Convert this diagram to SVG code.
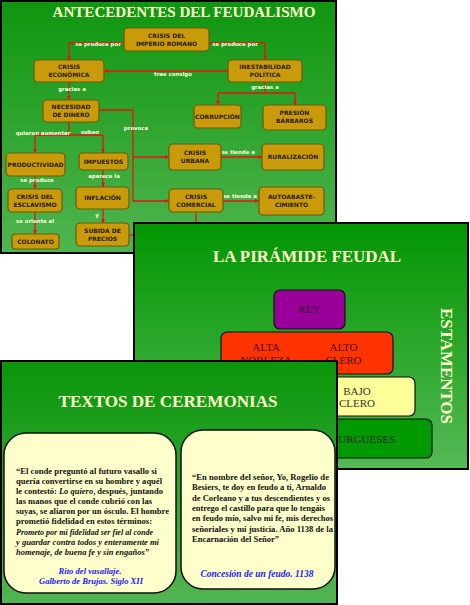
<svg xmlns="http://www.w3.org/2000/svg" width="470" height="605" viewBox="0 0 470 605">
<defs>
<linearGradient id="g1" x1="0" y1="0" x2="0" y2="1"><stop offset="0" stop-color="#0f960f"/><stop offset="1" stop-color="#50b550"/></linearGradient>
<linearGradient id="g2" x1="0" y1="0" x2="0" y2="1"><stop offset="0" stop-color="#029602"/><stop offset="1" stop-color="#55b955"/></linearGradient>
<linearGradient id="g3" x1="0" y1="0" x2="0" y2="1"><stop offset="0" stop-color="#0a950a"/><stop offset="1" stop-color="#52b552"/></linearGradient>
<marker id="ar" viewBox="0 0 6 6" refX="6" refY="3" markerWidth="4" markerHeight="4" markerUnits="userSpaceOnUse" orient="auto"><path d="M0,0 L6,3 L0,6 Z" fill="#ee1111"/></marker>
<style>
.slide{stroke:#000;stroke-width:2}
.nd rect{fill:#c99a0a;stroke:#6b5a10;stroke-width:1.2}
.nd text{font-family:"DejaVu Sans",sans-serif;font-weight:bold;font-size:6px;fill:#2a1c00;text-anchor:middle}
.lb{font-family:"DejaVu Sans",sans-serif;font-weight:bold;font-size:5.4px;fill:#ffffe0;text-anchor:middle}
.cn path{fill:none;stroke:#ee1111;stroke-width:1.3}
.ttl{font-family:"Liberation Serif",serif;font-weight:bold;fill:#ffffcc;text-anchor:middle}
.pt{font-family:"Liberation Serif",serif;font-size:11px;text-anchor:middle}
.bx{fill:#ffffcc;stroke:#111;stroke-width:1.5}
.q{font-family:"Liberation Serif",serif;font-weight:bold;font-size:9.2px;fill:#111}
.src{font-family:"Liberation Serif",serif;font-weight:bold;font-style:italic;fill:#1a1aff;text-anchor:middle}
</style>
</defs>

<!-- Slide 1 -->
<g id="slide1">
<rect class="slide" x="1" y="1" width="335" height="252" fill="url(#g1)"/>
<text class="ttl" x="184" y="17" font-size="15" textLength="263" lengthAdjust="spacingAndGlyphs">ANTECEDENTES DEL FEUDALISMO</text>

<g class="cn" id="connectors">
<path d="M124,43 H69 V60" marker-end="url(#ar)"/>
<path d="M209,43 H265 V60" marker-end="url(#ar)"/>
<path d="M228,71 H104" marker-end="url(#ar)"/>
<path d="M69,82 V100" marker-end="url(#ar)"/>
<path d="M265,82 V93"/>
<path d="M218,93 H295"/>
<path d="M218,93 V105" marker-end="url(#ar)"/>
<path d="M295,93 V105" marker-end="url(#ar)"/>
<path d="M99,110 H133 V201 H169" marker-end="url(#ar)"/>
<path d="M133,157 H169" marker-end="url(#ar)"/>
<path d="M69,122 V135"/>
<path d="M35,135 H103"/>
<path d="M35,135 V153" marker-end="url(#ar)"/>
<path d="M103,135 V153" marker-end="url(#ar)"/>
<path d="M35,176 V189" marker-end="url(#ar)"/>
<path d="M35,212 V234" marker-end="url(#ar)"/>
<path d="M103,170 V187" marker-end="url(#ar)"/>
<path d="M103,209 V223" marker-end="url(#ar)"/>
<path d="M221,157 H262" marker-end="url(#ar)"/>
<path d="M223,201 H259" marker-end="url(#ar)"/>
<path d="M196,212 V224"/>
<path d="M129,235 H134"/>
</g>

<g id="labels">
<text class="lb" x="98" y="46">se produce por</text>
<text class="lb" x="235" y="46">se produce por</text>
<text class="lb" x="173" y="76">trae consigo</text>
<text class="lb" x="72" y="91">gracias a</text>
<text class="lb" x="265" y="89">gracias a</text>
<text class="lb" x="136" y="130">provoca</text>
<text class="lb" x="43" y="135">quieren aumentar</text>
<text class="lb" x="90" y="134">suben</text>
<text class="lb" x="37" y="182">se produce</text>
<text class="lb" x="104" y="178">aparece la</text>
<text class="lb" x="35" y="223">se orienta al</text>
<text class="lb" x="97" y="217">y</text>
<text class="lb" x="238" y="154">se tiende a</text>
<text class="lb" x="240" y="198">se tiende a</text>
</g>

<g id="n-imperio" class="nd"><rect x="124" y="28" width="85" height="23" rx="4"/><text x="166.5" y="38">CRISIS DEL</text><text x="166.5" y="46">IMPERIO ROMANO</text></g>
<g id="n-economica" class="nd"><rect x="34" y="60" width="70" height="22" rx="4"/><text x="69" y="69">CRISIS</text><text x="69" y="77">ECONÓMICA</text></g>
<g id="n-politica" class="nd"><rect x="228" y="60" width="74" height="22" rx="4"/><text x="265" y="69">INESTABILIDAD</text><text x="265" y="77">POLÍTICA</text></g>
<g id="n-dinero" class="nd"><rect x="43" y="100" width="56" height="22" rx="4"/><text x="71" y="109">NECESIDAD</text><text x="71" y="117">DE DINERO</text></g>
<g id="n-corrupcion" class="nd"><rect x="194" y="105" width="47" height="23" rx="4"/><text x="217.5" y="119">CORRUPCIÓN</text></g>
<g id="n-barbaros" class="nd"><rect x="263" y="105" width="63" height="25" rx="4"/><text x="294.5" y="115">PRESIÓN</text><text x="294.5" y="123">BÁRBAROS</text></g>
<g id="n-productividad" class="nd"><rect x="6" y="153" width="59" height="23" rx="4"/><text x="35.5" y="167" textLength="56" lengthAdjust="spacingAndGlyphs">PRODUCTIVIDAD</text></g>
<g id="n-impuestos" class="nd"><rect x="79" y="153" width="49" height="17" rx="4"/><text x="103.5" y="164">IMPUESTOS</text></g>
<g id="n-urbana" class="nd"><rect x="169" y="144" width="52" height="26" rx="4"/><text x="195" y="155">CRISIS</text><text x="195" y="163">URBANA</text></g>
<g id="n-ruralizacion" class="nd"><rect x="262" y="144" width="62" height="26" rx="4"/><text x="293" y="159">RURALIZACIÓN</text></g>
<g id="n-esclavismo" class="nd"><rect x="8" y="189" width="54" height="23" rx="4"/><text x="35" y="199">CRISIS DEL</text><text x="35" y="207">ESCLAVISMO</text></g>
<g id="n-inflacion" class="nd"><rect x="76" y="187" width="53" height="22" rx="4"/><text x="102.5" y="200">INFLACIÓN</text></g>
<g id="n-comercial" class="nd"><rect x="169" y="189" width="54" height="23" rx="4"/><text x="196" y="199">CRISIS</text><text x="196" y="207">COMERCIAL</text></g>
<g id="n-autoabast" class="nd"><rect x="259" y="187" width="65" height="28" rx="4"/><text x="291.5" y="199">AUTOABASTE-</text><text x="291.5" y="207">CIMIENTO</text></g>
<g id="n-colonato" class="nd"><rect x="12" y="234" width="47" height="15" rx="3"/><text x="35.5" y="244">COLONATO</text></g>
<g id="n-subida" class="nd"><rect x="76" y="223" width="53" height="23" rx="4"/><text x="102.5" y="233">SUBIDA DE</text><text x="102.5" y="241">PRECIOS</text></g>
</g>

<!-- Slide 2 -->
<g id="slide2">
<rect class="slide" x="134" y="223" width="334" height="246" fill="url(#g2)"/>
<text class="ttl" x="307" y="262" font-size="17" textLength="188" lengthAdjust="spacingAndGlyphs">LA PIRÁMIDE FEUDAL</text>
<g id="burgueses"><rect x="272" y="419" width="160" height="39" rx="6" fill="#009900" stroke="#111" stroke-width="1.2"/><text class="pt" x="363" y="443" fill="#1a2a1a">BURGUESES</text></g>
<g id="bajo"><rect x="291" y="377" width="124" height="39" rx="6" fill="#ffff99" stroke="#111" stroke-width="1.2"/><text class="pt" x="357" y="395" fill="#333">BAJO</text><text class="pt" x="357" y="407" fill="#333">CLERO</text></g>
<g id="alta"><rect x="221" y="332" width="172" height="42" rx="6" fill="#ff3300" stroke="#111" stroke-width="1.2"/><text class="pt" x="266" y="351" fill="#4a1000">ALTA</text><text class="pt" x="266" y="364" fill="#4a1000">NOBLEZA</text><text class="pt" x="343.5" y="351" fill="#4a1000">ALTO</text><text class="pt" x="343.5" y="364" fill="#4a1000">CLERO</text></g>
<g id="rey"><rect x="274" y="290" width="71" height="39" rx="6" fill="#990099" stroke="#111" stroke-width="1.2"/><text class="pt" x="309.5" y="313" fill="#330033">REY</text></g>
<text class="ttl" font-size="17" transform="translate(441,366) rotate(90)" x="0" y="0" textLength="116" lengthAdjust="spacingAndGlyphs">ESTAMENTOS</text>
</g>

<!-- Slide 3 -->
<g id="slide3">
<rect class="slide" x="1" y="361" width="336" height="243" fill="url(#g3)"/>
<text class="ttl" x="168" y="407" font-size="17" textLength="219" lengthAdjust="spacingAndGlyphs">TEXTOS DE CEREMONIAS</text>
<g id="texto1">
<rect class="bx" x="4" y="433" width="172" height="160" rx="22"/>
<text class="q" x="16" y="474" textLength="141" lengthAdjust="spacingAndGlyphs">“El conde preguntó al futuro vasallo si</text>
<text class="q" x="16" y="484" textLength="146" lengthAdjust="spacingAndGlyphs">quería convertirse en su hombre y aquél</text>
<text class="q" x="16" y="494" textLength="147" lengthAdjust="spacingAndGlyphs">le contestó: <tspan font-style="italic">Lo quiero</tspan>, después, juntando</text>
<text class="q" x="16" y="504" textLength="136" lengthAdjust="spacingAndGlyphs">las manos que el conde cubrió con las</text>
<text class="q" x="16" y="514" textLength="153" lengthAdjust="spacingAndGlyphs">suyas, se aliaron por un ósculo. El hombre</text>
<text class="q" x="16" y="524" textLength="136" lengthAdjust="spacingAndGlyphs">prometió fidelidad en estos términos:</text>
<text class="q" x="16" y="535" font-style="italic" textLength="137" lengthAdjust="spacingAndGlyphs">Prometo por mi fidelidad ser fiel al conde</text>
<text class="q" x="16" y="545" font-style="italic" textLength="143" lengthAdjust="spacingAndGlyphs">y guardar contra todos y enteramente mi</text>
<text class="q" x="16" y="555" font-style="italic" textLength="133" lengthAdjust="spacingAndGlyphs">homenaje, de buena fe y sin engaños”</text>
<text class="src" x="90" y="574" font-size="9" textLength="63" lengthAdjust="spacingAndGlyphs">Rito del vasallaje.</text>
<text class="src" x="91" y="584" font-size="9" textLength="104" lengthAdjust="spacingAndGlyphs">Galberto de Brujas. Siglo XII</text>
</g>
<g id="texto2">
<rect class="bx" x="181" y="430" width="154" height="159" rx="22"/>
<text class="q" x="192" y="480" textLength="137" lengthAdjust="spacingAndGlyphs">“En nombre del señor, Yo, Rogelio de</text>
<text class="q" x="192" y="490" textLength="134" lengthAdjust="spacingAndGlyphs">Besiers, te doy en feudo a ti, Arnaldo</text>
<text class="q" x="192" y="501" textLength="138" lengthAdjust="spacingAndGlyphs">de Corleano y a tus descendientes y os</text>
<text class="q" x="192" y="511" textLength="133" lengthAdjust="spacingAndGlyphs">entrego el castillo para que lo tengáis</text>
<text class="q" x="192" y="521" textLength="141" lengthAdjust="spacingAndGlyphs">en feudo mío, salvo mi fe, mis derechos</text>
<text class="q" x="192" y="532" textLength="141" lengthAdjust="spacingAndGlyphs">señoriales y mi justicia. Año 1138 de la</text>
<text class="q" x="192" y="542" textLength="87" lengthAdjust="spacingAndGlyphs">Encarnación del Señor”</text>
<text class="src" x="257" y="577" font-size="10.5" textLength="113" lengthAdjust="spacingAndGlyphs">Concesión de un feudo. 1138</text>
</g>
</g>
</svg>
